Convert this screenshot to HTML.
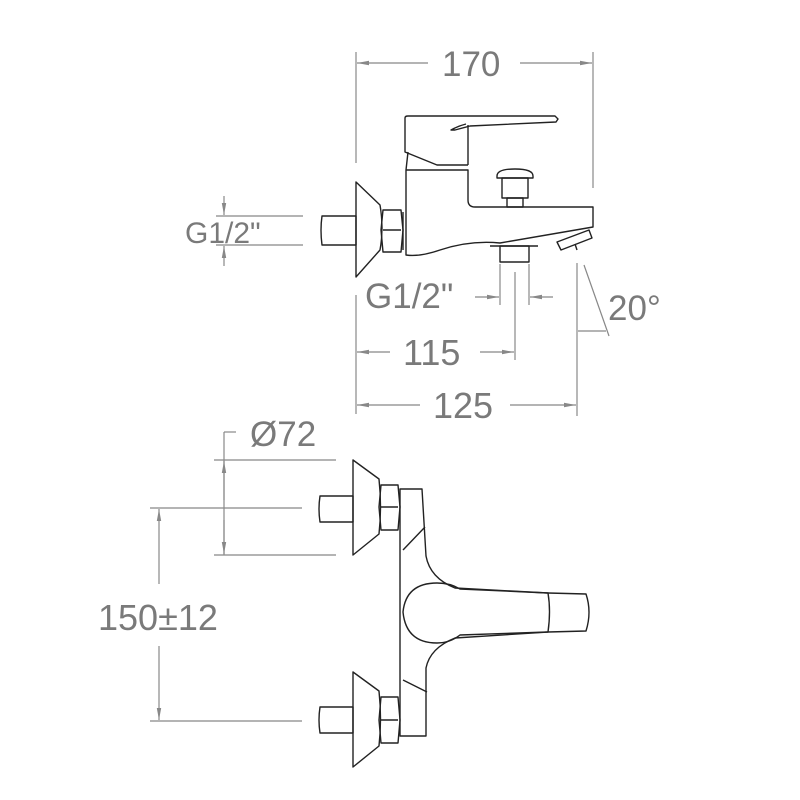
<!DOCTYPE html>
<html><head><meta charset="utf-8"><style>
html,body{margin:0;padding:0;background:#fff;}
svg{display:block;}
text{font-family:"Liberation Sans",sans-serif;fill:#7a7a7a;}
</style></head><body>
<svg width="800" height="800" viewBox="0 0 800 800" xmlns="http://www.w3.org/2000/svg">
<defs>
<marker id="a" markerWidth="12" markerHeight="6" refX="12" refY="3" orient="auto" markerUnits="userSpaceOnUse">
<path d="M0,0.8 L12,3 L0,5.2 Z" fill="#888"/></marker>
</defs>
<g stroke="#888" stroke-width="1.2" fill="none">
<line x1="356" y1="52" x2="356" y2="163"/>
<line x1="593" y1="52" x2="593" y2="188"/>
<line x1="428" y1="63" x2="357" y2="63" marker-end="url(#a)"/>
<line x1="520" y1="63" x2="592" y2="63" marker-end="url(#a)"/>
<line x1="216" y1="216" x2="303" y2="216"/>
<line x1="216" y1="245" x2="303" y2="245"/>
<line x1="224" y1="196" x2="224" y2="215" marker-end="url(#a)"/>
<line x1="224" y1="266" x2="224" y2="246" marker-end="url(#a)"/>
<line x1="500" y1="264" x2="500" y2="305"/>
<line x1="529" y1="264" x2="529" y2="305"/>
<line x1="515" y1="272" x2="515" y2="360"/>
<line x1="475" y1="297" x2="499" y2="297" marker-end="url(#a)"/>
<line x1="553" y1="297" x2="530" y2="297" marker-end="url(#a)"/>
<line x1="577" y1="263" x2="577" y2="416"/>
<line x1="584" y1="265" x2="609" y2="336"/>
<line x1="578" y1="331" x2="606" y2="331"/>
<line x1="356" y1="295" x2="356" y2="414"/>
<line x1="390" y1="352" x2="357" y2="352" marker-end="url(#a)"/>
<line x1="480" y1="352" x2="514" y2="352" marker-end="url(#a)"/>
<line x1="420" y1="405" x2="357" y2="405" marker-end="url(#a)"/>
<line x1="510" y1="405" x2="576" y2="405" marker-end="url(#a)"/>
<line x1="214" y1="460" x2="336" y2="460"/>
<line x1="214" y1="555" x2="336" y2="555"/>
<line x1="224" y1="432" x2="236" y2="432"/>
<line x1="224" y1="432" x2="224" y2="555"/>
<line x1="224" y1="500" x2="224" y2="461" marker-end="url(#a)"/>
<line x1="224" y1="520" x2="224" y2="554" marker-end="url(#a)"/>
<line x1="150" y1="508" x2="302" y2="508"/>
<line x1="150" y1="721" x2="302" y2="721"/>
<line x1="159" y1="584" x2="159" y2="509" marker-end="url(#a)"/>
<line x1="159" y1="646" x2="159" y2="720" marker-end="url(#a)"/>
</g>
<text x="442" y="76" font-size="35">170</text>
<text x="185" y="243" font-size="30">G1/2"</text>
<text x="365" y="308" font-size="35">G1/2"</text>
<text x="608" y="320" font-size="35">20°</text>
<text x="403" y="365" font-size="36">115</text>
<text x="433" y="418" font-size="36">125</text>
<text x="250" y="446" font-size="35">Ø72</text>
<text x="98" y="630" font-size="36">150±12</text>

<g stroke="#222" stroke-width="1.4" fill="none" stroke-linejoin="round">
<path d="M322,216 H356 V245 H322 Q320,230 322,216 Z"/>
<path d="M356,182 L380,205 Q384,228 380,250 L356,277 Z"/>
<path d="M383,210 L401,210 L403,230 L401,252 L383,252 L381,230 Z"/>
<line x1="383" y1="230" x2="401" y2="230"/>
<line x1="403" y1="212" x2="403" y2="250"/>
<path d="M405,118 Q405,116 408,116 L555,116 L558,119 L556,122 L470,126 L455,130 L451,130 Q458,126 466,124"/>
<line x1="468" y1="125" x2="468" y2="165"/>
<path d="M405,118 V152 L437,165 H468"/>
<path d="M408,152 L406,170 V255 Q420,257 440,250 Q470,240 500,243 L593,227 V207 H475 Q468,207 468,200 V170 H406"/>
<path d="M497,176 Q497,169 515,169 Q533,169 533,176 V178 H497 Z"/>
<rect x="502" y="178" width="26" height="20"/>
<rect x="507" y="198" width="16" height="9"/>
<rect x="500" y="246" width="29" height="16"/>
<path d="M490,246 H538"/>
<path d="M557,242 L589,230 L592,238 L561,250 Z"/>
<line x1="575" y1="244" x2="577" y2="250"/>
<path d="M320,496 H353 V522 H320 Q318,509 320,496 Z"/>
<path d="M353,460 L379,479 Q382,507 379,534 L353,555 Z"/>
<path d="M381,485 L398,485 L400,507 L398,530 L381,530 L379,507 Z"/>
<line x1="381" y1="507" x2="398" y2="507"/>
<path d="M400,489 H422 L426,556 Q430,578 455,588 L548,593 Q551,611 548,632 L455,638 Q430,648 426,668 L426,736 H400 Z"/>
<path d="M403,550 L425,527"/>
<path d="M403,680 L427,692"/>
<path d="M437,583 Q406,583 403,612 Q406,643 437,643 Q450,643 460,635 L548,632"/>
<path d="M437,583 Q450,583 460,589 L548,593"/>
<path d="M548,593 L586,594 Q592,612 586,631 L548,632"/>
<path d="M320,707 H353 V733 H320 Q318,720 320,707 Z"/>
<path d="M353,672 L379,691 Q382,719 379,746 L353,767 Z"/>
<path d="M381,697 L398,697 L400,720 L398,743 L381,743 L379,720 Z"/>
<line x1="381" y1="720" x2="398" y2="720"/>
</g>
</svg>
</body></html>
